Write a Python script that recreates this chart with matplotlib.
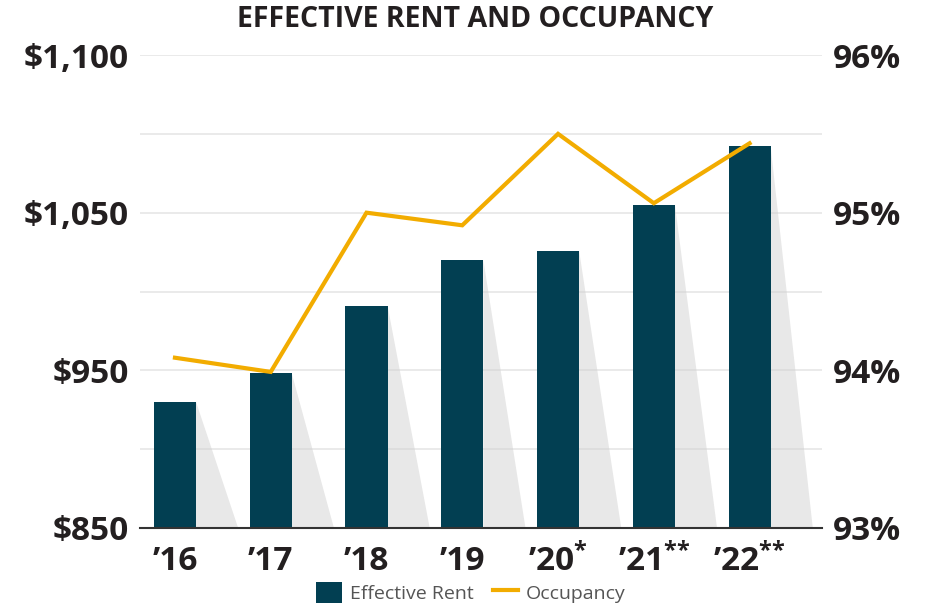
import numpy as np
import matplotlib
matplotlib.use("Agg")
from matplotlib import pyplot as plt
from matplotlib.patches import Patch
from matplotlib.lines import Line2D

plt.rcParams['font.family'] = ['Open Sans', 'DejaVu Sans']
plt.rcParams['mathtext.fontset'] = 'custom'
plt.rcParams['mathtext.bf'] = 'Open Sans:bold'
plt.rcParams['mathtext.rm'] = 'Open Sans:bold'
plt.rcParams['mathtext.default'] = 'bf'

years = ["\u201916", "\u201917", "\u201918", "\u201919",
         "\u201920$^{\\text{*}}$", "\u201921$^{\\text{**}}$", "\u201922$^{\\text{**}}$"]
rent = [930, 948, 991, 1020, 1026, 1055, 1092]
occupancy = [94.08, 93.99, 95.0, 94.92, 95.5, 95.06, 95.44]

rent_ticks = [850, 950, 1050, 1150]
rent_labels = ["$850", "$950", "$1,050", "$1,100"]
occ_ticks = [93, 94, 95, 96]
occ_labels = ["93%", "94%", "95%", "96%"]

BAR = "#023f52"
LINE = "#f2ac00"
TXT = "#231f20"
w = 0.44

fig = plt.figure(figsize=(9.29, 6.08), dpi=100)
ax = fig.add_axes([0.1507, 0.1316, 0.734, 0.7779])
x = np.arange(len(years))

# shadows behind each bar
for xi, v in zip(x, rent):
    xr = xi + w / 2
    ax.fill([xr, xr + w, xr], [v, 850, 850], color="#e8e8e8", lw=0, zorder=0.5)

for g in range(850, 1151, 50):
    ax.axhline(g, color="#cfcfcf", alpha=0.5, lw=1.2, zorder=1)

ax.bar(x, rent, width=w, color=BAR, zorder=2)
ax.set_xlim(-0.365, 6.755)
ax.set_ylim(850, 1150)
ax.set_yticks(rent_ticks)
ax.set_yticklabels(rent_labels, fontsize=24, fontweight="bold", color=TXT)
ax.set_xticks(x)
ax.set_xticklabels(years, fontsize=24, fontweight="bold", color=TXT)
ax.tick_params(axis="both", length=0)
ax.tick_params(axis="y", pad=8)
ax.tick_params(axis="x", pad=12)
for s in ["left", "right", "top"]:
    ax.spines[s].set_visible(False)
ax.spines["bottom"].set_color("#333333")
ax.spines["bottom"].set_linewidth(1.5)
ax.spines["bottom"].set_zorder(3)

ax2 = ax.twinx()
ax2.plot(x, occupancy, color=LINE, lw=3, solid_joinstyle="miter", zorder=4)
ax2.set_ylim(93, 96)
ax2.set_yticks(occ_ticks)
ax2.set_yticklabels(occ_labels, fontsize=24, fontweight="bold", color=TXT)
ax2.tick_params(axis="y", length=0, pad=8)
for s in ["left", "right", "top", "bottom"]:
    ax2.spines[s].set_visible(False)

fig.text(0.512, 0.968, "EFFECTIVE RENT AND OCCUPANCY", ha="center", va="center",
         fontsize=20.5, fontweight="bold", color=TXT)

handles = [Patch(facecolor=BAR, label="Effective Rent"),
           Line2D([0], [0], color=LINE, lw=3, label="Occupancy")]
fig.legend(handles=handles, loc="center", bbox_to_anchor=(0.507, 0.026), ncol=2,
           frameon=False, fontsize=14, labelcolor="#555555", handlelength=1.3,
           handleheight=1.3, columnspacing=1.0, handletextpad=0.4)

fig.savefig("out.png", dpi=100)
